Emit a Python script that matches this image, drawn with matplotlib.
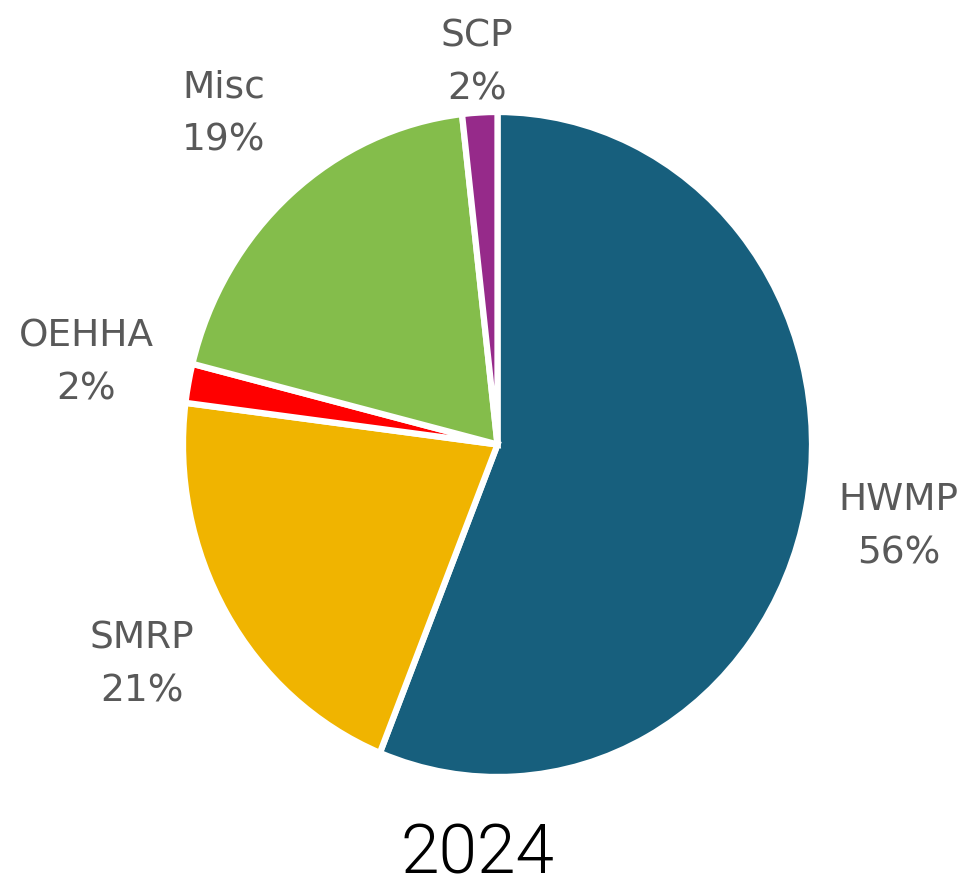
import matplotlib
matplotlib.use("Agg")
import matplotlib.pyplot as plt
import numpy as np

categories = ["HWMP", "SMRP", "OEHHA", "Misc", "SCP"]
values = [56.1, 20.9, 1.9, 19.3, 1.8]
colors = ["#175F7D", "#F0B400", "#FF0000", "#84BD4B", "#962A8A"]
title = "2024"

W, H = 969, 890
fig = plt.figure(figsize=(W / 100, H / 100), dpi=100)

# pie bounding box in pixels (slightly taller than wide, as in reference)
cx, cy, rx, ry = 497.5, 444.5, 314.5, 332.5
ax = fig.add_axes([(cx - rx) / W, (H - cy - ry) / H, 2 * rx / W, 2 * ry / H])

wedges, _ = ax.pie(values, colors=colors, startangle=90, counterclock=False,
                   wedgeprops=dict(edgecolor="white", linewidth=4.5))
ax.set_aspect("auto")
ax.set_xlim(-1, 1)
ax.set_ylim(-1, 1)
ax.axis("off")
for w in wedges:
    w.set_clip_on(False)

label_font = ["DejaVu Sans"]
dists = [1.30, 1.31, 1.33, 1.32, 1.15]
for w, cat, v, d in zip(wedges, categories, values, dists):
    th = np.deg2rad((w.theta1 + w.theta2) / 2)
    ax.text(d * np.cos(th), d * np.sin(th), f"{cat}\n{round(v):d}%",
            ha="center", va="center", fontsize=27, color="#595959",
            family=label_font, linespacing=1.6, clip_on=False)

fig.text(477 / W, 1 - 873 / H, title, ha="center", va="baseline",
         fontsize=50, color="black", family=["Roboto", "DejaVu Sans"],
         fontweight=300)

fig.savefig("out.png", dpi=100, facecolor="white")
